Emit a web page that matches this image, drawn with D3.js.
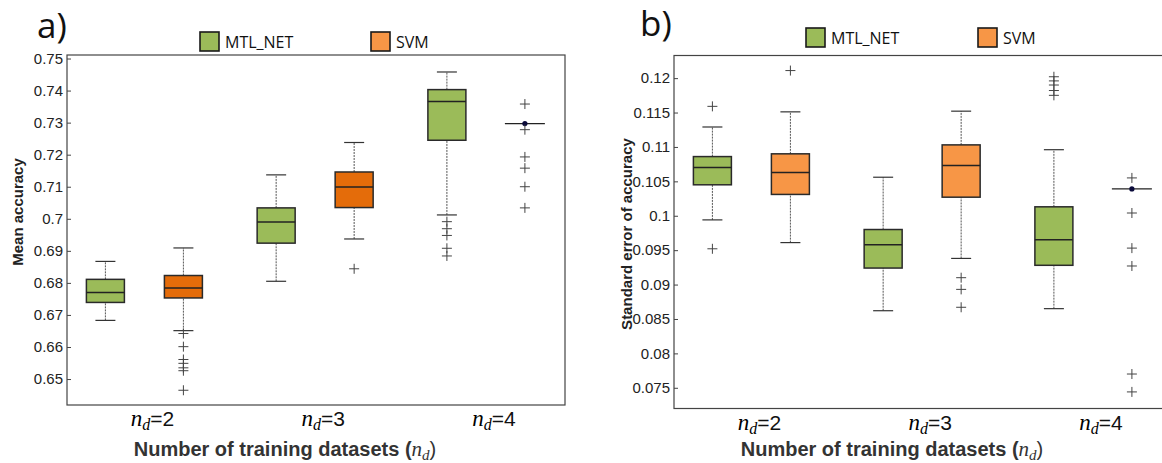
<!DOCTYPE html>
<html>
<head>
<meta charset="utf-8">
<script src="https://cdn.jsdelivr.net/npm/d3@7"></script>
<style>
  body { margin: 0; background: #fff; }
  .tick text { font-family: "Liberation Sans", Arial, sans-serif; font-size: 15px; fill: #222; }
  .axis path { display: none; }
  .axis line { stroke: #444; }
</style>
</head>
<body>
<div class="chart"></div>
<script>
var groups = ["2", "3", "4"];
var seriesNames = ["MTL_NET", "SVM"];

// box stats: [lower whisker, q1, median, q3, upper whisker]
var accMTL = [[0.6683, 0.6739, 0.6770, 0.6811, 0.6867],
              [0.6805, 0.6924, 0.6990, 0.7034, 0.7137],
              [0.7012, 0.7245, 0.7366, 0.7403, 0.7458]];
var accSVM = [[0.6651, 0.6753, 0.6784, 0.6823, 0.6909],
              [0.6937, 0.7035, 0.7099, 0.7146, 0.7238],
              [0.7297, 0.7297, 0.7297, 0.7297, 0.7297]];
var accMTLOut = [[], [], [0.6991, 0.6969, 0.6948, 0.6908, 0.6884]];
var accSVMOut = [[0.6642, 0.6601, 0.6561, 0.6549, 0.6535, 0.6526, 0.6465],
                 [0.6844],
                 [0.7358, 0.7278, 0.7193, 0.7158, 0.7100, 0.7034]];
var accTicks = [0.65, 0.66, 0.67, 0.68, 0.69, 0.7, 0.71, 0.72, 0.73, 0.74, 0.75];

var seMTL = [[0.0994, 0.1045, 0.1070, 0.1086, 0.1129],
             [0.0862, 0.0924, 0.0958, 0.0980, 0.1056],
             [0.0865, 0.0928, 0.0965, 0.1013, 0.1096]];
var seSVM = [[0.0961, 0.1031, 0.1063, 0.1090, 0.1151],
             [0.0938, 0.1027, 0.1073, 0.1103, 0.1152],
             [0.1039, 0.1039, 0.1039, 0.1039, 0.1039]];
var seMTLOut = [[0.1159, 0.0952], [], [0.1202, 0.1196, 0.1190, 0.1182, 0.1175]];
var seSVMOut = [[0.1211], [0.0910, 0.0893, 0.0867],
                [0.1055, 0.1004, 0.0953, 0.0927, 0.0770, 0.0744]];
var seTicks = [0.075, 0.08, 0.085, 0.09, 0.095, 0.1, 0.105, 0.11, 0.115, 0.12];

var svg = d3.select(".chart")
  .append("svg")
  .attr("width", 1162)
  .attr("height", 463);

var green = "#9bbb59";
var legendOrange = "#f79646";

function drawPanel(p) {
  var width = 498, height = p.bottom - p.top;
  var g = svg.append("g").attr("transform", `translate(${p.left}, ${p.top})`);

  var x = d3.scaleLinear().domain([0.5467, 3.4633]).range([0, width]);
  var y = d3.scaleLinear().domain(p.domain).range([height, 0]);
  var off = 39, bw = 38, cw = 20;

  // frame
  g.append("rect")
    .attr("width", width).attr("height", height)
    .attr("fill", "none").attr("stroke", "#444").attr("stroke-width", 1.2);

  // y axis, ticks pointing inwards
  g.append("g").attr("class", "axis")
    .call(d3.axisLeft(y).tickValues(p.ticks).tickSize(-4).tickPadding(4)
      .tickFormat(d => String(+d.toFixed(3))));

  var boxes = [];
  groups.forEach(function(gr, i) {
    boxes.push({pos: i + 1, dx: -off, s: p.mtl[i], out: p.mtlOut[i], fill: green});
    boxes.push({pos: i + 1, dx: off, s: p.svm[i], out: p.svmOut[i], fill: p.svmColor});
  });

  boxes.forEach(function(b) {
    var cx = x(b.pos) + b.dx;
    var bg = g.append("g");
    if (b.s[1] === b.s[3]) {
      // degenerate box: single line with a dot
      bg.append("line")
        .attr("x1", cx - bw / 2 - 1).attr("x2", cx + bw / 2 + 1)
        .attr("y1", y(b.s[2])).attr("y2", y(b.s[2]))
        .attr("stroke", "#222").attr("stroke-width", 1.2);
      bg.append("circle")
        .attr("cx", cx).attr("cy", y(b.s[2])).attr("r", 2.6)
        .attr("fill", "#0a0a3a");
    } else {
      // whiskers
      [[b.s[0], b.s[1]], [b.s[3], b.s[4]]].forEach(function(w) {
        bg.append("line")
          .attr("x1", cx).attr("x2", cx)
          .attr("y1", y(w[0])).attr("y2", y(w[1]))
          .attr("stroke", "#555").attr("stroke-width", 1)
          .attr("stroke-dasharray", "2,1");
      });
      [b.s[0], b.s[4]].forEach(function(v) {
        bg.append("line")
          .attr("x1", cx - cw / 2).attr("x2", cx + cw / 2)
          .attr("y1", y(v)).attr("y2", y(v))
          .attr("stroke", "#333").attr("stroke-width", 1.2);
      });
      bg.append("rect")
        .attr("x", cx - bw / 2).attr("y", y(b.s[3]))
        .attr("width", bw).attr("height", y(b.s[1]) - y(b.s[3]))
        .attr("fill", b.fill).attr("stroke", "#2a2a2a").attr("stroke-width", 1.5);
      bg.append("line")
        .attr("x1", cx - bw / 2).attr("x2", cx + bw / 2)
        .attr("y1", y(b.s[2])).attr("y2", y(b.s[2]))
        .attr("stroke", "#222").attr("stroke-width", 1.5);
    }
    // outliers as plus signs
    b.out.forEach(function(v) {
      bg.append("path")
        .attr("d", `M${cx - 5},${y(v)}H${cx + 5}M${cx},${y(v) - 5}V${y(v) + 5}`)
        .attr("stroke", "#444").attr("stroke-width", 1).attr("fill", "none");
    });
  });

  // x labels
  groups.forEach(function(gr, i) {
    var t = g.append("text")
      .attr("x", x(i + 1) + 8).attr("y", height + 21)
      .attr("text-anchor", "middle");
    t.append("tspan").text("n")
      .style("font-family", "'Liberation Serif', serif").style("font-style", "italic").style("font-size", "23px");
    t.append("tspan").text("d").attr("dy", 4)
      .style("font-family", "'Liberation Serif', serif").style("font-style", "italic").style("font-size", "16px");
    t.append("tspan").text("=" + gr).attr("dy", -4)
      .style("font-family", "'Liberation Sans Narrow', 'Liberation Sans', sans-serif").style("font-size", "21px").style("fill", "#111");
  });

  // x title
  var xt = g.append("text")
    .attr("x", width / 2 - 31).attr("y", 456 - p.top)
    .attr("text-anchor", "middle")
    .style("fill", "#333");
  xt.append("tspan").text("Number of training datasets (")
    .style("font-family", "'Liberation Sans Narrow', 'Liberation Sans', sans-serif")
    .style("font-weight", "bold").style("font-size", "20px");
  xt.append("tspan").text("n")
    .style("font-family", "'Liberation Serif', serif").style("font-style", "italic").style("font-size", "21px");
  xt.append("tspan").text("d").attr("dy", 4)
    .style("font-family", "'Liberation Serif', serif").style("font-style", "italic").style("font-size", "15px");
  xt.append("tspan").text(")").attr("dy", -4)
    .style("font-family", "'Liberation Sans Narrow', 'Liberation Sans', sans-serif").style("font-size", "20px");

  // y title
  g.append("text")
    .attr("transform", `translate(${p.ytX - p.left}, ${p.ytY - p.top}) rotate(-90)`)
    .attr("text-anchor", "middle")
    .style("font-family", "'Liberation Sans', Arial, sans-serif")
    .style("font-weight", "bold").style("font-size", "15px").style("fill", "#222")
    .text(p.yTitle);

  // panel letter
  svg.append("text")
    .attr("x", p.letterX).attr("y", p.letterY)
    .style("font-family", "'Open Sans', sans-serif").style("font-size", "35px").style("fill", "#111")
    .text(p.letter);

  // legend
  var lg = svg.append("g").attr("transform", `translate(${p.legX}, ${p.legY})`);
  [[0, green, seriesNames[0]], [p.legGap, legendOrange, seriesNames[1]]].forEach(function(l) {
    lg.append("rect").attr("x", l[0]).attr("y", 0).attr("width", 19).attr("height", 19)
      .attr("fill", l[1]).attr("stroke", "#1a1a1a").attr("stroke-width", 1.6);
    lg.append("text").attr("x", l[0] + 25).attr("y", 16)
      .style("font-family", "'Open Sans', sans-serif").style("font-size", "16px").style("fill", "#111")
      .text(l[2]);
  });
}

drawPanel({
  left: 67, top: 55, bottom: 405,
  domain: [0.6419, 0.7511], ticks: accTicks,
  mtl: accMTL, svm: accSVM, mtlOut: accMTLOut, svmOut: accSVMOut,
  svmColor: "#e46c0a",
  yTitle: "Mean accuracy", ytX: 23, ytY: 212,
  letter: "a)", letterX: 37, letterY: 38,
  legX: 200, legY: 32, legGap: 171
});

drawPanel({
  left: 674, top: 55.5, bottom: 408.5,
  domain: [0.07199, 0.12329], ticks: seTicks,
  mtl: seMTL, svm: seSVM, mtlOut: seMTLOut, svmOut: seSVMOut,
  svmColor: legendOrange,
  yTitle: "Standard error of accuracy", ytX: 632, ytY: 234,
  letter: "b)", letterX: 640, letterY: 36,
  legX: 806, legY: 28, legGap: 172
});
</script>
</body>
</html>
